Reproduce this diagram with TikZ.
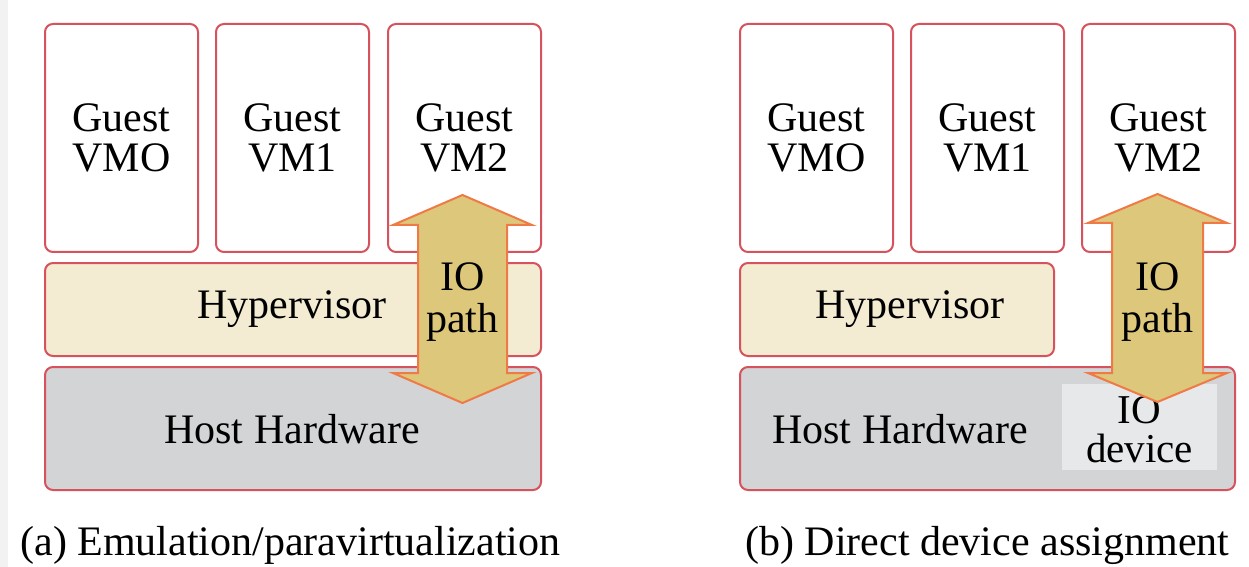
\documentclass[tikz,border=0pt]{standalone}
\usepackage{fontspec}
\setmainfont{Liberation Serif}
\definecolor{edgered}{HTML}{D6535E}
\definecolor{hypfill}{HTML}{F3ECD3}
\definecolor{hwfill}{HTML}{D3D4D6}
\definecolor{devfill}{HTML}{E7E8E9}
\definecolor{arrfill}{HTML}{DCC77B}
\definecolor{arredge}{HTML}{F07A45}
\tikzset{
  layer/.style={draw=edgered, line width=1pt, rounded corners=4pt, anchor=north west,
    inner sep=0pt, align=center, font=\fontsize{21}{20}\selectfont},
  vmbox/.style={layer, fill=white, minimum width=76.5pt, minimum height=114pt},
  hyp/.style={layer, fill=hypfill, minimum height=46.5pt},
  hw/.style={layer, fill=hwfill, minimum height=61.5pt},
  devbox/.style={fill=devfill, anchor=north west, inner sep=0pt,
    minimum width=77.5pt, minimum height=43pt},
  ioarrow/.style={fill=arrfill, draw=arredge, line width=1pt, line join=miter},
  lbl/.style={align=center, inner sep=0pt, font=\fontsize{21}{21}\selectfont},
  devlbl/.style={align=center, inner sep=0pt, font=\fontsize{20.5}{19.5}\selectfont},
  caption/.style={anchor=base west, inner sep=0pt, font=\fontsize{21}{21}\selectfont}
}
\begin{document}
\begin{tikzpicture}[x=0.5pt,y=-0.5pt]
\useasboundingbox (0,0) rectangle (1249,567);
\fill[white] (0,0) rectangle (1249,567);
\fill[black!5] (0,0) rectangle (8,567);

% ---- (a) emulation / paravirtualization ----
\node[vmbox] (a0) at (44,23)  {Guest\\VMO};
\node[vmbox] (a1) at (215,23) {Guest\\VM1};
\node[vmbox] (a2) at (387,23) {Guest\\VM2};
\node[hyp, minimum width=248pt] (ahyp) at (44,262) {};
\node[lbl] (ahyptxt) at (292,309) {Hypervisor};
\node[hw, minimum width=248pt] (ahw) at (44,366) {};
\node[lbl] (ahwtxt) at (292,429) {Host Hardware};
\draw[ioarrow] (462.5,195) -- (532,225) -- (507,225) -- (507,373) -- (532,373)
  -- (462.5,403) -- (393,373) -- (418,373) -- (418,225) -- (393,225) -- cycle;
\node[lbl] (apath) at (462.5,302) {IO\\path};
\node[caption] (capa) at (20,555) {(a) Emulation/paravirtualization};

% ---- (b) direct device assignment ----
\node[vmbox] (b0) at (739,23)  {Guest\\VMO};
\node[vmbox] (b1) at (910,23)  {Guest\\VM1};
\node[vmbox] (b2) at (1081,23) {Guest\\VM2};
\node[hyp, minimum width=157pt] (bhyp) at (739,262) {};
\node[lbl] (bhyptxt) at (910,309) {Hypervisor};
\node[hw, minimum width=247.5pt] (bhw) at (739,366) {};
\node[lbl] (bhwtxt) at (900,429) {Host Hardware};
\node[devbox] (bdev) at (1062,384) {};
\node[devlbl] (bdevtxt) at (1139.5,430) {IO\\device};
\draw[ioarrow] (1157.5,194) -- (1227,223) -- (1203,223) -- (1203,373) -- (1227,373)
  -- (1157.5,402) -- (1088,373) -- (1112,373) -- (1112,223) -- (1088,223) -- cycle;
\node[lbl] (bpath) at (1157.5,302) {IO\\path};
\node[caption] (capb) at (745,555) {(b) Direct device assignment};
\end{tikzpicture}
\end{document}
